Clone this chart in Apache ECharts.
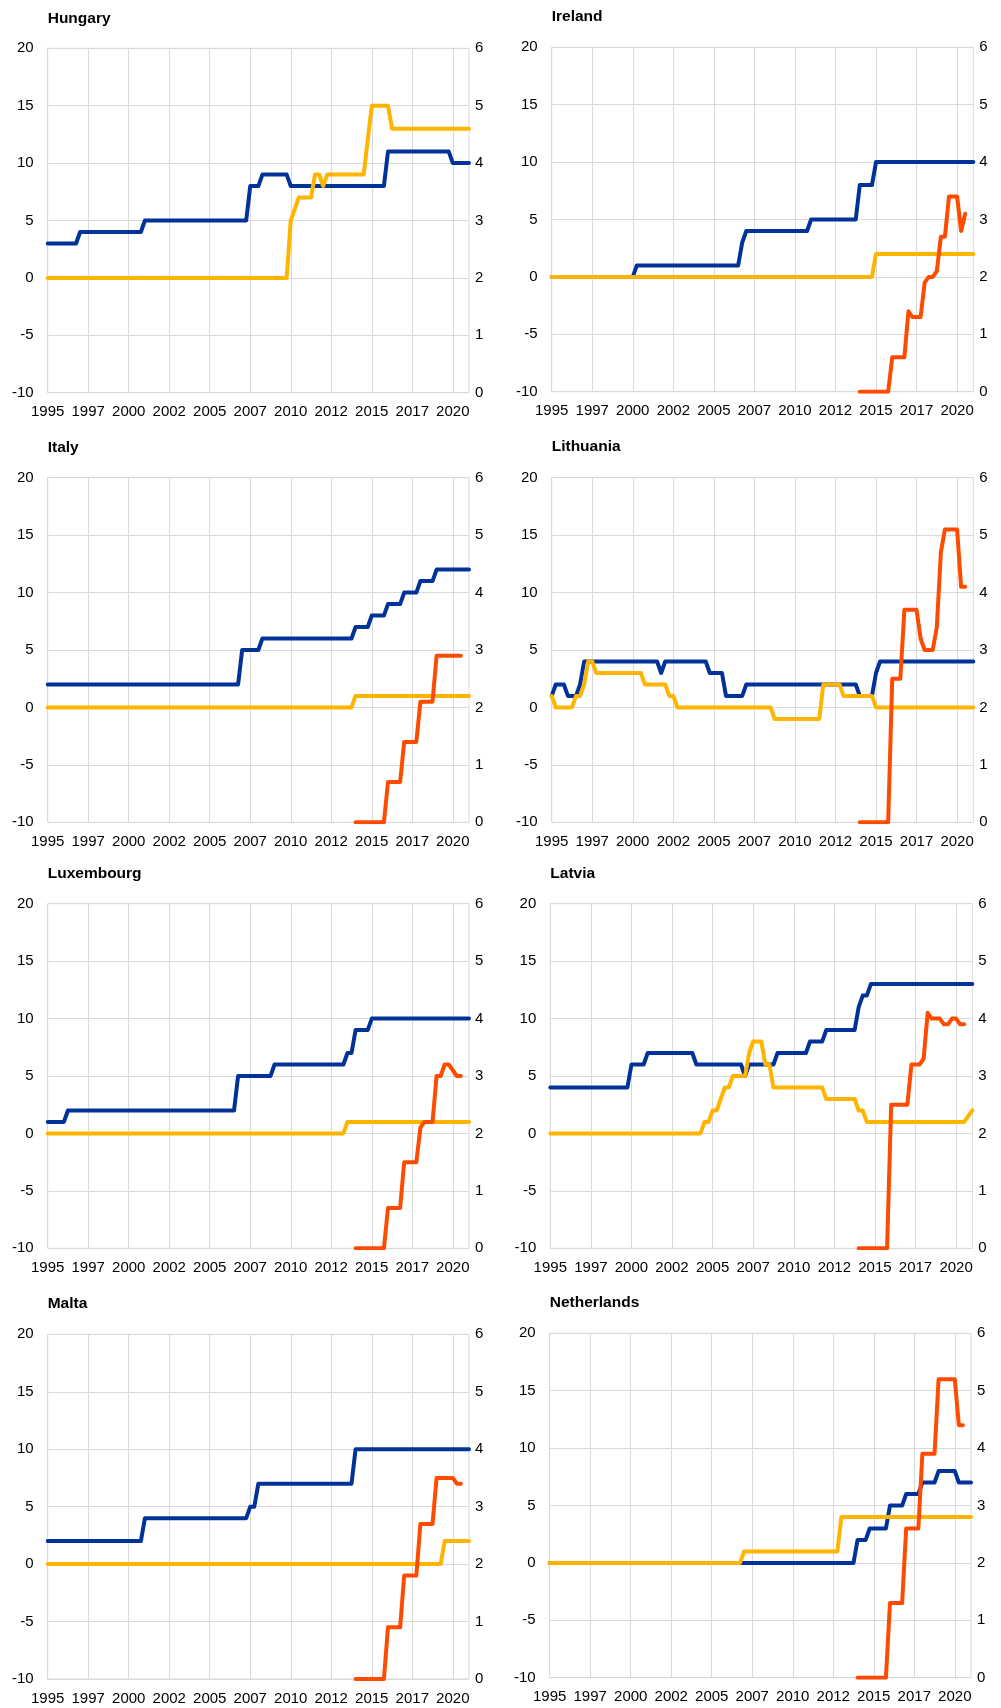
<!DOCTYPE html>
<html>
<head>
<meta charset="utf-8">
<script src="https://cdn.jsdelivr.net/npm/echarts@6/dist/echarts.min.js"></script>
<style>
  html, body { margin: 0; padding: 0; background: #ffffff; }
  #chart { width: 1001px; height: 1708px; }
</style>
</head>
<body>
<div id="chart"></div>
<script>
// ---------- DATA (quarterly, 1995Q1 .. 2021Q1) ----------
const N = null;
const startYear = 1995, endYear = 2021;
const categories = [];
for (let y = startYear; y <= endYear; y++) {
  for (let q = 1; q <= 4; q++) {
    if (y === endYear && q > 1) break;
    categories.push(y + 'Q' + q);
  }
}
const tickLabels = ['1995','1997','2000','2002','2005','2007','2010','2012','2015','2017','2020'];
const countries = ['Hungary','Ireland','Italy','Lithuania','Luxembourg','Latvia','Malta','Netherlands'];

// Hungary
const hungaryBlue = [
  3,3,3,3,3,3,3,3,4,4,
  4,4,4,4,4,4,4,4,4,4,
  4,4,4,4,5,5,5,5,5,5,
  5,5,5,5,5,5,5,5,5,5,
  5,5,5,5,5,5,5,5,5,5,
  8,8,8,9,9,9,9,9,9,9,
  8,8,8,8,8,8,8,8,8,8,
  8,8,8,8,8,8,8,8,8,8,
  8,8,8,8,11,11,11,11,11,11,
  11,11,11,11,11,11,11,11,11,11,
  10,10,10,10,10];
const hungaryYellow = [
  0,0,0,0,0,0,0,0,0,0,
  0,0,0,0,0,0,0,0,0,0,
  0,0,0,0,0,0,0,0,0,0,
  0,0,0,0,0,0,0,0,0,0,
  0,0,0,0,0,0,0,0,0,0,
  0,0,0,0,0,0,0,0,0,0,
  5,6,7,7,7,7,9,9,8,9,
  9,9,9,9,9,9,9,9,9,12,
  15,15,15,15,15,13,13,13,13,13,
  13,13,13,13,13,13,13,13,13,13,
  13,13,13,13,13];
const hungaryRed = [];

// Ireland
const irelandBlue = [
  0,0,0,0,0,0,0,0,0,0,
  0,0,0,0,0,0,0,0,0,0,
  0,1,1,1,1,1,1,1,1,1,
  1,1,1,1,1,1,1,1,1,1,
  1,1,1,1,1,1,1,3,4,4,
  4,4,4,4,4,4,4,4,4,4,
  4,4,4,4,5,5,5,5,5,5,
  5,5,5,5,5,5,8,8,8,8,
  10,10,10,10,10,10,10,10,10,10,
  10,10,10,10,10,10,10,10,10,10,
  10,10,10,10,10];
const irelandYellow = [
  0,0,0,0,0,0,0,0,0,0,
  0,0,0,0,0,0,0,0,0,0,
  0,0,0,0,0,0,0,0,0,0,
  0,0,0,0,0,0,0,0,0,0,
  0,0,0,0,0,0,0,0,0,0,
  0,0,0,0,0,0,0,0,0,0,
  0,0,0,0,0,0,0,0,0,0,
  0,0,0,0,0,0,0,0,0,0,
  2,2,2,2,2,2,2,2,2,2,
  2,2,2,2,2,2,2,2,2,2,
  2,2,2,2,2];
const irelandRed = [
  N,N,N,N,N,N,N,N,N,N,
  N,N,N,N,N,N,N,N,N,N,
  N,N,N,N,N,N,N,N,N,N,
  N,N,N,N,N,N,N,N,N,N,
  N,N,N,N,N,N,N,N,N,N,
  N,N,N,N,N,N,N,N,N,N,
  N,N,N,N,N,N,N,N,N,N,
  N,N,N,N,N,N,0,0,0,0,
  0,0,0,0,0.6,0.6,0.6,0.6,1.4,1.3,
  1.3,1.3,1.9,2.0,2.0,2.1,2.7,2.7,3.4,3.4,
  3.4,2.8,3.1,N,N];

// Italy
const italyBlue = [
  2,2,2,2,2,2,2,2,2,2,
  2,2,2,2,2,2,2,2,2,2,
  2,2,2,2,2,2,2,2,2,2,
  2,2,2,2,2,2,2,2,2,2,
  2,2,2,2,2,2,2,2,5,5,
  5,5,5,6,6,6,6,6,6,6,
  6,6,6,6,6,6,6,6,6,6,
  6,6,6,6,6,6,7,7,7,7,
  8,8,8,8,9,9,9,9,10,10,
  10,10,11,11,11,11,12,12,12,12,
  12,12,12,12,12];
const italyYellow = [
  0,0,0,0,0,0,0,0,0,0,
  0,0,0,0,0,0,0,0,0,0,
  0,0,0,0,0,0,0,0,0,0,
  0,0,0,0,0,0,0,0,0,0,
  0,0,0,0,0,0,0,0,0,0,
  0,0,0,0,0,0,0,0,0,0,
  0,0,0,0,0,0,0,0,0,0,
  0,0,0,0,0,0,1,1,1,1,
  1,1,1,1,1,1,1,1,1,1,
  1,1,1,1,1,1,1,1,1,1,
  1,1,1,1,1];
const italyRed = [
  N,N,N,N,N,N,N,N,N,N,
  N,N,N,N,N,N,N,N,N,N,
  N,N,N,N,N,N,N,N,N,N,
  N,N,N,N,N,N,N,N,N,N,
  N,N,N,N,N,N,N,N,N,N,
  N,N,N,N,N,N,N,N,N,N,
  N,N,N,N,N,N,N,N,N,N,
  N,N,N,N,N,N,0,0,0,0,
  0,0,0,0,0.7,0.7,0.7,0.7,1.4,1.4,
  1.4,1.4,2.1,2.1,2.1,2.1,2.9,2.9,2.9,2.9,
  2.9,2.9,2.9,N,N];

// Lithuania
const lithuaniaBlue = [
  1,2,2,2,1,1,1,2,4,4,
  4,4,4,4,4,4,4,4,4,4,
  4,4,4,4,4,4,4,3,4,4,
  4,4,4,4,4,4,4,4,4,3,
  3,3,3,1,1,1,1,1,2,2,
  2,2,2,2,2,2,2,2,2,2,
  2,2,2,2,2,2,2,2,2,2,
  2,2,2,2,2,2,1,1,1,1,
  3,4,4,4,4,4,4,4,4,4,
  4,4,4,4,4,4,4,4,4,4,
  4,4,4,4,4];
const lithuaniaYellow = [
  1,0,0,0,0,0,1,1,2,4,
  4,3,3,3,3,3,3,3,3,3,
  3,3,3,2,2,2,2,2,2,1,
  1,0,0,0,0,0,0,0,0,0,
  0,0,0,0,0,0,0,0,0,0,
  0,0,0,0,0,-1,-1,-1,-1,-1,
  -1,-1,-1,-1,-1,-1,-1,2,2,2,
  2,2,1,1,1,1,1,1,1,1,
  0,0,0,0,0,0,0,0,0,0,
  0,0,0,0,0,0,0,0,0,0,
  0,0,0,0,0];
const lithuaniaRed = [
  N,N,N,N,N,N,N,N,N,N,
  N,N,N,N,N,N,N,N,N,N,
  N,N,N,N,N,N,N,N,N,N,
  N,N,N,N,N,N,N,N,N,N,
  N,N,N,N,N,N,N,N,N,N,
  N,N,N,N,N,N,N,N,N,N,
  N,N,N,N,N,N,N,N,N,N,
  N,N,N,N,N,N,0,0,0,0,
  0,0,0,0,2.5,2.5,2.5,3.7,3.7,3.7,
  3.7,3.2,3.0,3.0,3.0,3.4,4.7,5.1,5.1,5.1,
  5.1,4.1,4.1,N,N];

// Luxembourg
const luxembourgBlue = [
  1,1,1,1,1,2,2,2,2,2,
  2,2,2,2,2,2,2,2,2,2,
  2,2,2,2,2,2,2,2,2,2,
  2,2,2,2,2,2,2,2,2,2,
  2,2,2,2,2,2,2,5,5,5,
  5,5,5,5,5,5,6,6,6,6,
  6,6,6,6,6,6,6,6,6,6,
  6,6,6,6,7,7,9,9,9,9,
  10,10,10,10,10,10,10,10,10,10,
  10,10,10,10,10,10,10,10,10,10,
  10,10,10,10,10];
const luxembourgYellow = [
  0,0,0,0,0,0,0,0,0,0,
  0,0,0,0,0,0,0,0,0,0,
  0,0,0,0,0,0,0,0,0,0,
  0,0,0,0,0,0,0,0,0,0,
  0,0,0,0,0,0,0,0,0,0,
  0,0,0,0,0,0,0,0,0,0,
  0,0,0,0,0,0,0,0,0,0,
  0,0,0,0,1,1,1,1,1,1,
  1,1,1,1,1,1,1,1,1,1,
  1,1,1,1,1,1,1,1,1,1,
  1,1,1,1,1];
const luxembourgRed = [
  N,N,N,N,N,N,N,N,N,N,
  N,N,N,N,N,N,N,N,N,N,
  N,N,N,N,N,N,N,N,N,N,
  N,N,N,N,N,N,N,N,N,N,
  N,N,N,N,N,N,N,N,N,N,
  N,N,N,N,N,N,N,N,N,N,
  N,N,N,N,N,N,N,N,N,N,
  N,N,N,N,N,N,0,0,0,0,
  0,0,0,0,0.7,0.7,0.7,0.7,1.5,1.5,
  1.5,1.5,2.1,2.2,2.2,2.2,3.0,3.0,3.2,3.2,
  3.1,3.0,3.0,N,N];

// Latvia
const latviaBlue = [
  4,4,4,4,4,4,4,4,4,4,
  4,4,4,4,4,4,4,4,4,4,
  6,6,6,6,7,7,7,7,7,7,
  7,7,7,7,7,7,6,6,6,6,
  6,6,6,6,6,6,6,6,5,6,
  6,6,6,6,6,6,7,7,7,7,
  7,7,7,7,8,8,8,8,9,9,
  9,9,9,9,9,9,11,12,12,13,
  13,13,13,13,13,13,13,13,13,13,
  13,13,13,13,13,13,13,13,13,13,
  13,13,13,13,13];
const latviaYellow = [
  0,0,0,0,0,0,0,0,0,0,
  0,0,0,0,0,0,0,0,0,0,
  0,0,0,0,0,0,0,0,0,0,
  0,0,0,0,0,0,0,0,1,1,
  2,2,3,4,4,5,5,5,5,7,
  8,8,8,6,6,4,4,4,4,4,
  4,4,4,4,4,4,4,4,3,3,
  3,3,3,3,3,3,2,2,1,1,
  1,1,1,1,1,1,1,1,1,1,
  1,1,1,1,1,1,1,1,1,1,
  1,1,1,1.5,2];
const latviaRed = [
  N,N,N,N,N,N,N,N,N,N,
  N,N,N,N,N,N,N,N,N,N,
  N,N,N,N,N,N,N,N,N,N,
  N,N,N,N,N,N,N,N,N,N,
  N,N,N,N,N,N,N,N,N,N,
  N,N,N,N,N,N,N,N,N,N,
  N,N,N,N,N,N,N,N,N,N,
  N,N,N,N,N,N,0,0,0,0,
  0,0,0,0,2.5,2.5,2.5,2.5,2.5,3.2,
  3.2,3.2,3.3,4.1,4.0,4.0,4.0,3.9,3.9,4.0,
  4.0,3.9,3.9,N,N];

// Malta
const maltaBlue = [
  2,2,2,2,2,2,2,2,2,2,
  2,2,2,2,2,2,2,2,2,2,
  2,2,2,2,4,4,4,4,4,4,
  4,4,4,4,4,4,4,4,4,4,
  4,4,4,4,4,4,4,4,4,4,
  5,5,7,7,7,7,7,7,7,7,
  7,7,7,7,7,7,7,7,7,7,
  7,7,7,7,7,7,10,10,10,10,
  10,10,10,10,10,10,10,10,10,10,
  10,10,10,10,10,10,10,10,10,10,
  10,10,10,10,10];
const maltaYellow = [
  0,0,0,0,0,0,0,0,0,0,
  0,0,0,0,0,0,0,0,0,0,
  0,0,0,0,0,0,0,0,0,0,
  0,0,0,0,0,0,0,0,0,0,
  0,0,0,0,0,0,0,0,0,0,
  0,0,0,0,0,0,0,0,0,0,
  0,0,0,0,0,0,0,0,0,0,
  0,0,0,0,0,0,0,0,0,0,
  0,0,0,0,0,0,0,0,0,0,
  0,0,0,0,0,0,0,0,2,2,
  2,2,2,2,2];
const maltaRed = [
  N,N,N,N,N,N,N,N,N,N,
  N,N,N,N,N,N,N,N,N,N,
  N,N,N,N,N,N,N,N,N,N,
  N,N,N,N,N,N,N,N,N,N,
  N,N,N,N,N,N,N,N,N,N,
  N,N,N,N,N,N,N,N,N,N,
  N,N,N,N,N,N,N,N,N,N,
  N,N,N,N,N,N,0,0,0,0,
  0,0,0,0,0.9,0.9,0.9,0.9,1.8,1.8,
  1.8,1.8,2.7,2.7,2.7,2.7,3.5,3.5,3.5,3.5,
  3.5,3.4,3.4,N,N];

// Netherlands
const netherlandsBlue = [
  0,0,0,0,0,0,0,0,0,0,
  0,0,0,0,0,0,0,0,0,0,
  0,0,0,0,0,0,0,0,0,0,
  0,0,0,0,0,0,0,0,0,0,
  0,0,0,0,0,0,0,0,0,0,
  0,0,0,0,0,0,0,0,0,0,
  0,0,0,0,0,0,0,0,0,0,
  0,0,0,0,0,0,2,2,2,3,
  3,3,3,3,5,5,5,5,6,6,
  6,6,7,7,7,7,8,8,8,8,
  8,7,7,7,7];
const netherlandsYellow = [
  0,0,0,0,0,0,0,0,0,0,
  0,0,0,0,0,0,0,0,0,0,
  0,0,0,0,0,0,0,0,0,0,
  0,0,0,0,0,0,0,0,0,0,
  0,0,0,0,0,0,0,0,1,1,
  1,1,1,1,1,1,1,1,1,1,
  1,1,1,1,1,1,1,1,1,1,
  1,1,4,4,4,4,4,4,4,4,
  4,4,4,4,4,4,4,4,4,4,
  4,4,4,4,4,4,4,4,4,4,
  4,4,4,4,4];
const netherlandsRed = [
  N,N,N,N,N,N,N,N,N,N,
  N,N,N,N,N,N,N,N,N,N,
  N,N,N,N,N,N,N,N,N,N,
  N,N,N,N,N,N,N,N,N,N,
  N,N,N,N,N,N,N,N,N,N,
  N,N,N,N,N,N,N,N,N,N,
  N,N,N,N,N,N,N,N,N,N,
  N,N,N,N,N,N,0,0,0,0,
  0,0,0,0,1.3,1.3,1.3,1.3,2.6,2.6,
  2.6,2.6,3.9,3.9,3.9,3.9,5.2,5.2,5.2,5.2,
  5.2,4.4,4.4,N,N];

const blueSeries = [hungaryBlue, irelandBlue, italyBlue, lithuaniaBlue, luxembourgBlue, latviaBlue, maltaBlue, netherlandsBlue];
const yellowSeries = [hungaryYellow, irelandYellow, italyYellow, lithuaniaYellow, luxembourgYellow, latviaYellow, maltaYellow, netherlandsYellow];
const redSeries = [hungaryRed, irelandRed, italyRed, lithuaniaRed, luxembourgRed, latviaRed, maltaRed, netherlandsRed];

// ---------- LAYOUT ----------
const layout = [
  { l: 47.7,  t: 48.3,   w: 421.3, h: 344.4, tt: 11 },
  { l: 551.7, t: 47.3,   w: 421.6, h: 344.4, tt: 9 },
  { l: 47.7,  t: 477.7,  w: 421.3, h: 344.6, tt: 440 },
  { l: 551.7, t: 477.7,  w: 421.6, h: 344.6, tt: 439 },
  { l: 47.7,  t: 903.7,  w: 421.3, h: 344.6, tt: 866 },
  { l: 550.3, t: 903.7,  w: 422.0, h: 344.6, tt: 866 },
  { l: 47.7,  t: 1334.3, w: 421.3, h: 344.7, tt: 1296 },
  { l: 549.7, t: 1333.3, w: 421.3, h: 344.4, tt: 1295 }
];

const FONT = '"Liberation Sans", Arial, Helvetica, sans-serif';
const GRIDC = '#d9d9d9';
const BLUE = '#003299', YELLOW = '#FFB400', RED = '#FF4B00';

const option = {
  animation: false,
  backgroundColor: '#ffffff',
  title: [], grid: [], xAxis: [], yAxis: [], series: []
};

countries.forEach((name, i) => {
  const L = layout[i];
  option.title.push({
    text: name, left: L.l, top: L.tt, padding: 0,
    textStyle: { fontFamily: FONT, fontSize: 15.5, fontWeight: 'bold', color: '#000' }
  });
  option.grid.push({
    left: L.l, top: L.t, width: L.w, height: L.h,
    show: true, borderColor: GRIDC, borderWidth: 1, backgroundColor: 'transparent',
    containLabel: false
  });
  option.xAxis.push({
    type: 'category', gridIndex: i, data: categories, boundaryGap: false,
    axisLine: { show: false }, axisTick: { show: false },
    axisLabel: {
      interval: 9, margin: 12, fontFamily: FONT, fontSize: 15, color: '#000',
      formatter: (v, idx) => tickLabels[idx / 10] !== undefined ? tickLabels[idx / 10] : v.slice(0, 4)
    },
    splitLine: { show: true, interval: 9, lineStyle: { color: GRIDC, width: 1 } }
  });
  option.yAxis.push({
    type: 'value', gridIndex: i, min: -10, max: 20, interval: 5, position: 'left',
    axisLine: { show: false }, axisTick: { show: false },
    axisLabel: { margin: 14, fontFamily: FONT, fontSize: 15, color: '#000' },
    splitLine: { show: true, lineStyle: { color: GRIDC, width: 1 } }
  });
  option.yAxis.push({
    type: 'value', gridIndex: i, min: 0, max: 6, interval: 1, position: 'right',
    axisLine: { show: false }, axisTick: { show: false },
    axisLabel: { margin: 6, fontFamily: FONT, fontSize: 15, color: '#000' },
    splitLine: { show: false }
  });
  const mk = (data, color, yIdx) => ({
    type: 'line', xAxisIndex: i, yAxisIndex: yIdx, data: data,
    showSymbol: false, symbol: 'none', connectNulls: false,
    lineStyle: { color: color, width: 4, cap: 'round', join: 'round' },
    itemStyle: { color: color }, emphasis: { disabled: true }, silent: true
  });
  option.series.push(mk(blueSeries[i], BLUE, 2 * i));
  option.series.push(mk(yellowSeries[i], YELLOW, 2 * i));
  if (redSeries[i].length) option.series.push(mk(redSeries[i], RED, 2 * i + 1));
});

const chart = echarts.init(document.getElementById('chart'), null, { renderer: 'canvas' });
chart.setOption(option);
</script>
</body>
</html>
